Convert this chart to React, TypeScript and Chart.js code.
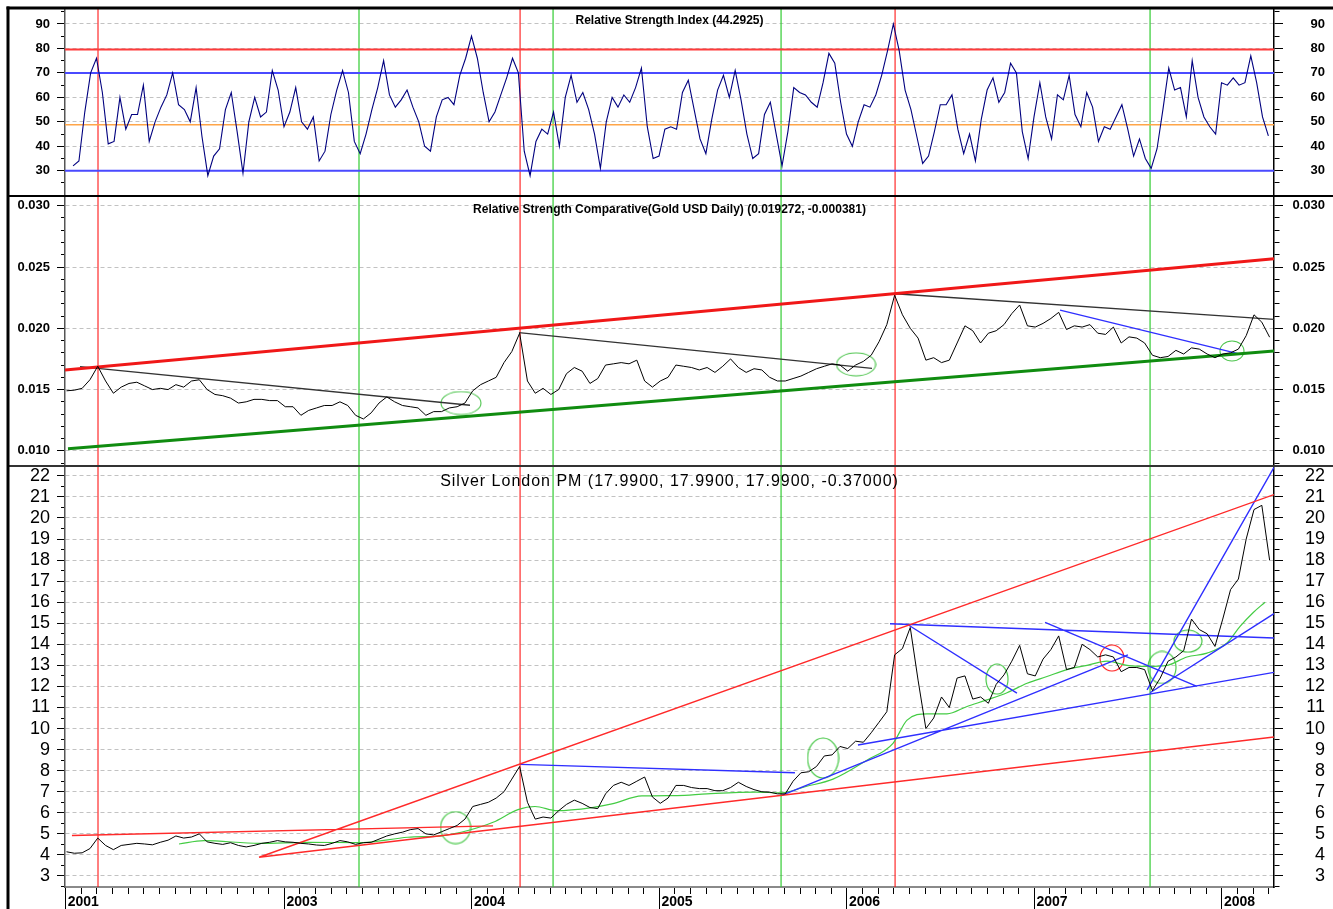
import React, { useEffect, useRef } from 'react';
import { Chart, registerables } from 'chart.js';

Chart.register(...registerables);

// ---------------- DATA ----------------
const X_MIN = 2001.83;
const X_MAX = 2008.278;

const seriesStart = 2001.838; // first sample date (decimal year)
const seriesStep = 1 / 24; // semi-monthly samples
const rsiStart = 2001.873;
const rsiStep = 1 / 32;

const silverValues = [
  4.15, 4.08, 4.1, 4.3, 4.8, 4.45, 4.25, 4.45, 4.5, 4.55,
  4.52, 4.48, 4.6, 4.7, 4.9, 4.8, 4.85, 5.0, 4.62, 4.55,
  4.5, 4.58, 4.45, 4.38, 4.45, 4.55, 4.6, 4.68, 4.62, 4.6,
  4.55, 4.52, 4.47, 4.45, 4.55, 4.68, 4.62, 4.5, 4.58, 4.6,
  4.75, 4.9, 5.0, 5.08, 5.2, 5.25, 5.0, 4.95, 5.1, 5.25,
  5.4, 5.7, 6.3, 6.4, 6.5, 6.7, 7.0, 7.6, 8.2, 6.5,
  5.7, 5.8, 5.75, 6.1, 6.4, 6.6, 6.45, 6.25, 6.2, 6.9,
  7.3, 7.45, 7.3, 7.5, 7.7, 6.75, 6.45, 6.7, 7.3, 7.3,
  7.2, 7.15, 7.15, 7.05, 7.05, 7.2, 7.45, 7.25, 7.1, 7.0,
  6.98, 6.9, 6.9, 7.5, 7.9, 7.95, 8.2, 8.7, 8.75, 9.15,
  9.05, 9.4, 9.35, 9.8, 10.3, 10.8, 13.5, 13.8, 14.8, 12.3,
  10.0, 10.5, 11.5, 11.0, 12.4, 12.5, 11.4, 11.5, 11.2, 12.1,
  12.55, 13.2, 13.95, 12.6, 12.5, 13.3, 13.75, 14.4, 12.8, 12.9,
  14.0, 13.75, 13.4, 13.5, 13.4, 12.7, 12.9, 12.9, 12.8, 11.8,
  12.4, 13.2, 13.4, 13.7, 15.2, 14.7, 14.5, 13.9, 15.2, 16.6,
  17.1, 19.0, 20.4, 20.6, 17.99,
];

const rscValues = [
  0.0149, 0.01495, 0.0151, 0.0158, 0.0169, 0.0157, 0.0147, 0.0152, 0.0155, 0.0156,
  0.0153, 0.015, 0.0151, 0.015, 0.0154, 0.0152, 0.0157, 0.0158, 0.015, 0.0146,
  0.0145, 0.0143, 0.0139, 0.014, 0.0142, 0.0142, 0.0141, 0.0141, 0.0136, 0.0136,
  0.0129, 0.0133, 0.0135, 0.0137, 0.0137, 0.014, 0.0137, 0.0129, 0.0126, 0.0131,
  0.0139, 0.0144, 0.014, 0.0137, 0.0136, 0.0135, 0.0129, 0.0132, 0.0132, 0.0135,
  0.0136, 0.0139, 0.0149, 0.0154, 0.0157, 0.016, 0.0172, 0.0181, 0.0196, 0.0157,
  0.0147, 0.0151, 0.0146, 0.015, 0.0163, 0.0168, 0.0165, 0.0155, 0.0159, 0.017,
  0.0171, 0.0172, 0.0171, 0.0174, 0.0157, 0.0152, 0.0157, 0.016, 0.017, 0.0169,
  0.0168, 0.0166, 0.0168, 0.0164, 0.0169, 0.0175, 0.0168, 0.0164, 0.0167, 0.0166,
  0.016, 0.0157, 0.0157, 0.0159, 0.0161, 0.0164, 0.0167, 0.0169, 0.0171, 0.017,
  0.0165, 0.017, 0.0173, 0.0178, 0.0189, 0.0203, 0.0227, 0.0211, 0.02, 0.0192,
  0.0174, 0.0176, 0.0172, 0.0174, 0.0188, 0.0202, 0.0198, 0.0188, 0.0196, 0.0198,
  0.0203, 0.0212, 0.0219, 0.0202, 0.0201, 0.0204, 0.0208, 0.0213, 0.0199, 0.0202,
  0.0201, 0.0203, 0.0196, 0.0195, 0.0201, 0.0188, 0.0193, 0.0192, 0.0188, 0.0178,
  0.0176, 0.0177, 0.0182, 0.0179, 0.0184, 0.0183, 0.0179, 0.0176, 0.0179, 0.018,
  0.0183, 0.0194, 0.0211, 0.0205, 0.019272,
];

const rsiValues = [
  32, 34, 54, 70, 76, 62, 41, 42, 60, 47,
  53, 53, 65, 42, 50, 56, 61, 70, 57, 55,
  50, 64, 44, 28, 36, 39, 55, 62, 46, 29,
  50, 60, 52, 54, 71, 63, 48, 54, 64, 50,
  47, 52, 34, 38, 53, 63, 71, 62, 42, 37,
  45, 55, 64, 75, 61, 56, 59, 63, 56, 50,
  40, 38, 52, 59, 60, 57, 69, 76, 85, 76,
  62, 50, 54, 61, 68, 76, 70, 38, 28, 42,
  47, 45, 54, 40, 60, 69, 58, 62, 55, 45,
  31, 50, 60, 56, 61, 58, 64, 72, 48, 35,
  36, 47, 48, 47, 62, 67, 55, 43, 37, 51,
  63, 69, 60, 71, 59, 45, 35, 37, 53, 58,
  45, 32, 46, 64, 62, 61, 58, 56, 66, 78,
  74, 58, 45, 40, 50, 57, 56, 61, 69, 79,
  90, 79, 63, 55, 44, 33, 36, 46, 57, 57,
  61, 47, 37, 45, 34, 51, 63, 68, 58, 62,
  74, 70, 46, 35, 52, 66, 52, 43, 61, 59,
  69, 53, 48, 62, 56, 42, 48, 47, 52, 57,
  47, 36, 43, 35, 31, 39, 55, 72, 63, 64,
  52, 75, 60, 52, 48, 45, 66, 65, 68, 65,
  66, 77, 66, 52, 44.29,
];

const redVerticalDates = [2002.006, 2004.257, 2006.257];
const greenVerticalDates = [2003.398, 2004.433, 2005.649, 2007.617];

const rsiRedLevel = 79.6;
const rsiBlueLevels = [70, 30];
const rsiOrangeLevel = 48.8;

const rscRedChannel = [[2001.83, 0.0166], [2008.278, 0.02568]];
const rscGreenChannel = [[2001.846, 0.01017], [2008.278, 0.01815]];
const rscBlackLines = [
  [[2001.91, 0.01687], [2003.99, 0.01372]],
  [[2004.251, 0.01964], [2006.134, 0.01673]],
  [[2006.257, 0.02282], [2008.278, 0.02072]],
];
const rscBlueLines = [[[2007.137, 0.02149], [2008.097, 0.0179]]];
const rscCircleDates = [2003.942, 2006.049, 2008.054];
const rscCircleValues = [0.0139, 0.01706, 0.01815];

const silverRedLines = [
  [[2001.867, 4.92], [2004.113, 5.38]],
  [[2002.865, 3.89], [2008.278, 9.6]],
  [[2002.865, 3.89], [2008.278, 21.11]],
];
const silverBlueLines = [
  [[2004.257, 8.3], [2005.723, 7.9]],
  [[2005.649, 6.82], [2007.499, 13.5]],
  [[2007.617, 11.7], [2008.278, 15.46]],
  [[2006.059, 9.22], [2008.278, 12.67]],
  [[2006.23, 14.98], [2008.278, 14.3]],
  [[2006.326, 14.93], [2006.907, 11.68]],
  [[2007.057, 15.04], [2007.867, 12.0]],
  [[2007.601, 11.84], [2008.278, 22.4]],
];
const silverGreenCurveDates = [
  2002.438, 2002.571, 2002.865, 2003.131, 2003.393, 2003.659, 2003.846, 2003.979, 2004.113, 2004.246,
  2004.337, 2004.454, 2004.641, 2004.747, 2004.907, 2005.094, 2005.254, 2005.515, 2005.649, 2005.782,
  2005.926, 2006.107, 2006.246, 2006.321, 2006.427, 2006.534, 2006.641, 2006.747, 2006.854, 2006.961,
  2007.067, 2007.174, 2007.281, 2007.387, 2007.494, 2007.601, 2007.707, 2007.814, 2007.921, 2008.027,
  2008.097, 2008.166, 2008.23,
];
const silverGreenCurveValues = [
  4.52, 4.68, 4.55, 4.6, 4.58, 4.84, 4.92, 5.16, 5.55, 6.15,
  6.3, 6.1, 6.25, 6.42, 6.8, 6.82, 6.9, 6.98, 6.95, 7.25,
  7.6, 8.5, 9.3, 10.4, 10.7, 10.7, 11.05, 11.36, 11.7, 12.15,
  12.47, 12.8, 13.0, 13.2, 13.0, 12.95, 13.0, 13.4, 13.58, 14.06,
  14.85, 15.5, 16.0,
];
const silverGreenCircleDates = [2003.913, 2005.873, 2006.801, 2007.681, 2007.819];
const silverGreenCircleValues = [5.3, 8.6, 12.35, 12.9, 14.15];
const silverRedCircleDates = [2007.414];
const silverRedCircleValues = [13.35];

// axis ranges and tick labels
const RSI_MIN = 19.65, RSI_MAX = 96.54;
const RSC_MIN = 0.00875, RSC_MAX = 0.03079;
const SIL_MIN = 2.477, SIL_MAX = 22.46;

const rsiMajorTicks = [30, 40, 50, 60, 70, 80, 90];
const rsiMinorTicks = [25, 35, 45, 55, 65, 75, 85, 95];
const rscMajorTicks = [0.01, 0.015, 0.02, 0.025, 0.03];
const rscMinorTicks = [0.009, 0.011, 0.012, 0.013, 0.014, 0.016, 0.017, 0.018, 0.019, 0.021, 0.022, 0.023, 0.024, 0.026, 0.027, 0.028, 0.029];
const silverMajorTicks = [3, 4, 5, 6, 7, 8, 9, 10, 11, 12, 13, 14, 15, 16, 17, 18, 19, 20, 21, 22];
const silverMinorTicks = [2.5, 3.5, 4.5, 5.5, 6.5, 7.5, 8.5, 9.5, 10.5, 11.5, 12.5, 13.5, 14.5, 15.5, 16.5, 17.5, 18.5, 19.5, 20.5, 21.5];
const xYearTicks = [2001 + 10 / 12, 2003, 2004, 2005, 2006, 2007, 2008];
const xYearLabels = ['2001', '2003', '2004', '2005', '2006', '2007', '2008'];

const rsiTitle = 'Relative Strength Index (44.2925)';
const rscTitle = 'Relative Strength Comparative(Gold USD Daily) (0.019272, -0.000381)';
const silverTitle = 'Silver London PM (17.9900, 17.9900, 17.9900, -0.37000)';

// ---------------- STYLE ----------------
const W = 1333, H = 909;
const FONT = '"Liberation Sans", Arial, sans-serif';
const rscCircleSizes = [[40, 23], [39, 23], [24, 20]];
const silverGreenCircleSizes = [[30, 32], [31, 40], [22, 30], [28, 32], [28, 22]];
const silverRedCircleSizes = [[24, 26]];

// ---------------- HELPERS ----------------
const near = (a: number, b: number) => Math.abs(a - b) < 1e-7;
const inList = (list: number[], v: number) => list.some((m) => near(m, v));

function seriesData(start: number, step: number, values: number[]) {
  return values.map((v, i) => ({ x: start + i * step, y: v }));
}
function segData(segs: number[][][]) {
  const out: any[] = [];
  segs.forEach((s) => {
    s.forEach((p) => out.push({ x: p[0], y: p[1] }));
    out.push({ x: s[s.length - 1][0], y: null });
  });
  return out;
}
function vertData(dates: number[], min: number, max: number) {
  const out: any[] = [];
  dates.forEach((d) => {
    out.push({ x: d, y: min }, { x: d, y: max }, { x: d, y: null });
  });
  return out;
}
function pointData(dates: number[], values: number[]) {
  return dates.map((d, i) => ({ x: d, y: values[i] }));
}
function makeEllipse(w: number, h: number, color: string) {
  const c = document.createElement('canvas');
  c.width = w + 2;
  c.height = h + 2;
  const g = c.getContext('2d')!;
  g.strokeStyle = color;
  g.lineWidth = 1.1;
  g.beginPath();
  g.ellipse((w + 2) / 2, (h + 2) / 2, w / 2, h / 2, 0, 0, Math.PI * 2);
  g.stroke();
  return c;
}

function line(data: any[], yAxisID: string, color: string, width: number, extra: any = {}) {
  return {
    type: 'line',
    data,
    yAxisID,
    xAxisID: 'x',
    borderColor: color,
    backgroundColor: color,
    borderWidth: width,
    pointRadius: 0,
    pointHoverRadius: 0,
    fill: false,
    tension: 0,
    spanGaps: false,
    ...extra,
  };
}

function yAxis(o: any) {
  const { min, max, stackWeight, layoutWeight, position, major, minor, fmt, font } = o;
  const all = [...major, ...minor].filter((v: number) => v >= min && v <= max).sort((a: number, b: number) => a - b);
  const left = position === 'left';
  return {
    type: 'linear',
    position,
    stack: left ? 'leftStack' : 'rightStack',
    stackWeight,
    weight: layoutWeight,
    min,
    max,
    afterBuildTicks: (s: any) => {
      s.ticks = all.map((v: number) => ({ value: v }));
    },
    afterFit: (s: any) => {
      s.width = left ? 57 : 51;
      s.paddingTop = 0;
      s.paddingBottom = 0;
    },
    ticks: {
      autoSkip: false,
      padding: 7,
      color: '#000',
      font,
      crossAlign: left ? 'near' : 'far',
      callback: (v: number) => (inList(major, v) ? fmt(v) : ''),
    },
    grid: {
      drawOnChartArea: left,
      color: (c: any) => (c.tick && inList(major, c.tick.value) ? '#c2c2c2' : 'rgba(0,0,0,0)'),
      lineWidth: 1,
      tickLength: left ? 8 : 9,
      tickColor: '#000',
      tickWidth: 1,
      tickBorderDash: (c: any) =>
        c.tick && !inList(major, c.tick.value) ? (left ? [0, 4, 4, 0] : [5, 30]) : [],
    },
    border: { display: true, color: left ? '#555' : '#000', width: left ? 1.5 : 1.5, dash: [4, 3] },
  };
}

const framePlugin = {
  id: 'frameAndTitles',
  afterDraw(chart: any) {
    const ctx = chart.ctx as CanvasRenderingContext2D;
    const r = chart.scales.yRSI;
    const c = chart.scales.yRSC;
    const s = chart.scales.yS;
    const cx = (chart.chartArea.left + chart.chartArea.right) / 2;
    ctx.save();
    ctx.fillStyle = '#000';
    ctx.textAlign = 'center';
    ctx.textBaseline = 'middle';
    ctx.font = 'bold 12px ' + FONT;
    ctx.fillText(rsiTitle, cx, r.top + 13);
    ctx.fillText(rscTitle, cx, c.top + 14);
    ctx.font = '16px ' + FONT;
    (ctx as any).letterSpacing = '1px';
    ctx.fillText(silverTitle, cx, s.top + 15);
    (ctx as any).letterSpacing = '0px';
    ctx.strokeStyle = '#000';
    const seg = (x1: number, y1: number, x2: number, y2: number, w: number) => {
      ctx.lineWidth = w;
      ctx.beginPath();
      ctx.moveTo(x1, y1);
      ctx.lineTo(x2, y2);
      ctx.stroke();
    };
    seg(8, Math.round(r.bottom), W, Math.round(r.bottom), 2);
    ctx.strokeStyle = '#333';
    seg(8, Math.round(c.bottom), W, Math.round(c.bottom), 2);
    ctx.strokeStyle = '#000';
    seg(6.5, 8, W, 8, 3);
    seg(8, 6.5, 8, H, 3);
    ctx.restore();
  },
};

export default function App() {
  const ref = useRef<HTMLCanvasElement | null>(null);

  useEffect(() => {
    if (!ref.current) return;

    const rscCircles = rscCircleSizes.map((sz) => makeEllipse(sz[0], sz[1], '#4cc44c'));
    const silGreenCircles = silverGreenCircleSizes.map((sz) => makeEllipse(sz[0], sz[1], '#3cc43c'));
    const silRedCircles = silverRedCircleSizes.map((sz) => makeEllipse(sz[0], sz[1], '#ff1a1a'));

    const monthTicks: number[] = [];
    for (let m = 2001 * 12 + 10; m <= 2008 * 12 + 3; m++) monthTicks.push(m / 12);
    const isYear = (v: number) => xYearTicks.some((t) => Math.abs(t - v) < 1e-6);
    const yearLabel = (v: number) => {
      const k = xYearTicks.findIndex((t) => Math.abs(t - v) < 1e-6);
      return k >= 0 ? xYearLabels[k] : '';
    };

    const datasets: any[] = [
      // main series (drawn on top)
      line(seriesData(seriesStart, seriesStep, silverValues), 'yS', '#000', 1),
      line(seriesData(seriesStart, seriesStep, rscValues), 'yRSC', '#000', 1),
      line(seriesData(rsiStart, rsiStep, rsiValues), 'yRSI', '#00007f', 1.1),

      // RSI levels
      line(segData([[[X_MIN, rsiRedLevel], [X_MAX, rsiRedLevel]]]), 'yRSI', '#ff3a3a', 2),
      line(segData(rsiBlueLevels.map((v) => [[X_MIN, v], [X_MAX, v]])), 'yRSI', '#4a4aff', 2),
      line(segData([[[X_MIN, rsiOrangeLevel], [X_MAX, rsiOrangeLevel]]]), 'yRSI', '#ffa548', 1.5),

      // RSC trend lines
      line(segData([rscRedChannel]), 'yRSC', '#f01818', 3),
      line(segData([rscGreenChannel]), 'yRSC', '#108c10', 3),
      line(segData(rscBlackLines), 'yRSC', '#333333', 1.3),
      line(segData(rscBlueLines), 'yRSC', '#2f2fff', 1.3),
      line(pointData(rscCircleDates, rscCircleValues), 'yRSC', '#4cc44c', 1, {
        showLine: false,
        pointRadius: 5,
        pointStyle: (c: any) => rscCircles[c.dataIndex],
      }),

      // Silver overlays
      line(segData(silverRedLines), 'yS', '#ff2a2a', 1.4),
      line(segData(silverBlueLines), 'yS', '#2f2fff', 1.4),
      line(pointData(silverGreenCurveDates, silverGreenCurveValues), 'yS', '#44cc44', 1.2, {
        cubicInterpolationMode: 'monotone',
      }),
      line(pointData(silverGreenCircleDates, silverGreenCircleValues), 'yS', '#3cc43c', 1, {
        showLine: false,
        pointRadius: 5,
        pointStyle: (c: any) => silGreenCircles[c.dataIndex],
      }),
      line(pointData(silverRedCircleDates, silverRedCircleValues), 'yS', '#ff1a1a', 1, {
        showLine: false,
        pointRadius: 5,
        pointStyle: (c: any) => silRedCircles[c.dataIndex],
      }),

      // vertical marker lines on each panel
      line(vertData(redVerticalDates, RSI_MIN, RSI_MAX), 'yRSI', '#ff0000', 1),
      line(vertData(greenVerticalDates, RSI_MIN, RSI_MAX), 'yRSI', '#33cc33', 1.2),
      line(vertData(redVerticalDates, RSC_MIN, RSC_MAX), 'yRSC', '#ff0000', 1),
      line(vertData(greenVerticalDates, RSC_MIN, RSC_MAX), 'yRSC', '#33cc33', 1.2),
      line(vertData(redVerticalDates, SIL_MIN, SIL_MAX), 'yS', '#ff0000', 1),
      line(vertData(greenVerticalDates, SIL_MIN, SIL_MAX), 'yS', '#33cc33', 1.2),
    ];

    const smallBold = { family: FONT, size: 13, weight: 'bold' };
    const silverFont = { family: FONT, size: 18 };
    const fmtInt = (v: number) => String(Math.round(v));
    const fmtRsc = (v: number) => v.toFixed(3);

    const chart = new Chart(ref.current, {
      type: 'line',
      data: { datasets },
      options: {
        animation: false,
        responsive: false,
        maintainAspectRatio: false,
        events: [],
        layout: { padding: { left: 8, top: 8, right: 8, bottom: 0 } },
        plugins: {
          legend: { display: false },
          tooltip: { enabled: false },
          title: { display: false },
        },
        scales: {
          x: {
            type: 'linear',
            position: 'bottom',
            min: X_MIN,
            max: X_MAX,
            afterBuildTicks: (s: any) => {
              s.ticks = monthTicks.map((v) => ({ value: v }));
            },
            afterFit: (s: any) => {
              s.height = 22;
              s.paddingLeft = 0;
              s.paddingRight = 0;
            },
            ticks: {
              autoSkip: false,
              maxRotation: 0,
              minRotation: 0,
              align: 'start',
              labelOffset: 2,
              padding: -15,
              color: '#000',
              font: { family: FONT, size: 14, weight: 'bold' },
              callback: (v: number) => yearLabel(v),
            },
            grid: {
              drawOnChartArea: false,
              tickLength: 22,
              tickColor: '#000',
              tickWidth: 1,
              tickBorderDash: (c: any) => (c.tick && isYear(c.tick.value) ? [] : [6, 40]),
            },
            border: { display: true, color: '#8a8a8a', width: 2 },
          },
          yS: yAxis({ min: SIL_MIN, max: SIL_MAX, stackWeight: 420.7, layoutWeight: 1, position: 'left', major: silverMajorTicks, minor: silverMinorTicks, fmt: fmtInt, font: silverFont }),
          yRSC: yAxis({ min: RSC_MIN, max: RSC_MAX, stackWeight: 270, layoutWeight: 2, position: 'left', major: rscMajorTicks, minor: rscMinorTicks, fmt: fmtRsc, font: smallBold }),
          yRSI: yAxis({ min: RSI_MIN, max: RSI_MAX, stackWeight: 188, layoutWeight: 3, position: 'left', major: rsiMajorTicks, minor: rsiMinorTicks, fmt: fmtInt, font: smallBold }),
          yRSIr: yAxis({ min: RSI_MIN, max: RSI_MAX, stackWeight: 188, layoutWeight: 1, position: 'right', major: rsiMajorTicks, minor: rsiMinorTicks, fmt: fmtInt, font: smallBold }),
          yRSCr: yAxis({ min: RSC_MIN, max: RSC_MAX, stackWeight: 270, layoutWeight: 2, position: 'right', major: rscMajorTicks, minor: rscMinorTicks, fmt: fmtRsc, font: smallBold }),
          ySr: yAxis({ min: SIL_MIN, max: SIL_MAX, stackWeight: 420.7, layoutWeight: 3, position: 'right', major: silverMajorTicks, minor: silverMinorTicks, fmt: fmtInt, font: silverFont }),
        },
      } as any,
      plugins: [framePlugin],
    } as any);

    return () => chart.destroy();
  }, []);

  return (
    <div style={{ position: 'fixed', left: 0, top: 0, width: W, height: H, background: '#fff' }}>
      <canvas ref={ref} width={W} height={H} style={{ display: 'block', width: W, height: H }} />
    </div>
  );
}
